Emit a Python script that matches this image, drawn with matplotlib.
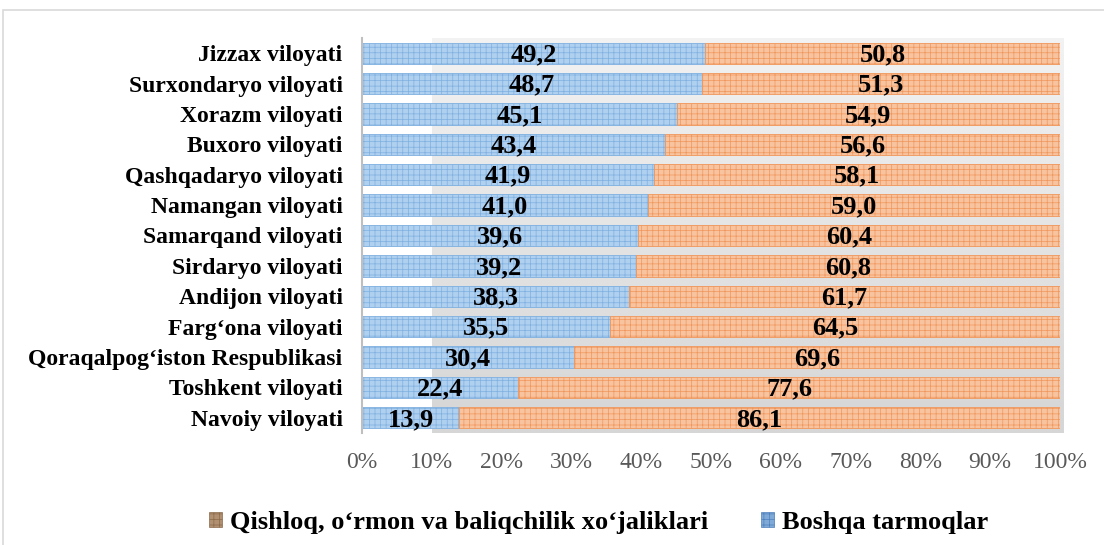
import matplotlib
matplotlib.use("Agg")
import matplotlib.pyplot as plt
import numpy as np
from matplotlib.patches import Patch, Rectangle
from matplotlib.colors import LinearSegmentedColormap

plt.rcParams['font.family'] = ['Liberation Serif', 'DejaVu Serif']
plt.rcParams['hatch.linewidth'] = 0.5

regions = ["Jizzax viloyati", "Surxondaryo viloyati", "Xorazm viloyati",
           "Buxoro viloyati", "Qashqadaryo viloyati", "Namangan viloyati",
           "Samarqand viloyati", "Sirdaryo viloyati", "Andijon viloyati",
           "Farg\u2018ona viloyati", "Qoraqalpog\u2018iston Respublikasi",
           "Toshkent viloyati", "Navoiy viloyati"]
boshqa = [49.2, 48.7, 45.1, 43.4, 41.9, 41.0, 39.6, 39.2, 38.3, 35.5, 30.4, 22.4, 13.9]
qishloq = [50.8, 51.3, 54.9, 56.6, 58.1, 59.0, 60.4, 60.8, 61.7, 64.5, 69.6, 77.6, 86.1]
xticks = [0, 10, 20, 30, 40, 50, 60, 70, 80, 90, 100]
xtick_labels = [f"{t}%" for t in xticks]
series_names = ["Qishloq, o\u2018rmon va baliqchilik xo\u2018jaliklari", "Boshqa tarmoqlar"]

fig = plt.figure(figsize=(11.04, 5.45), dpi=100)
fig.patches.append(Rectangle((3/1104, -0.01), 1.02, 1 - 10/545 + 0.01,
                             transform=fig.transFigure, fill=False,
                             edgecolor='#d9d9d9', linewidth=1.2))
ax = fig.add_axes([362/1104, (545-433)/545, 698/1104, 395/545])

y = np.arange(len(regions))
grad = np.linspace(0, 1, 100).reshape(-1, 1)
cm = LinearSegmentedColormap.from_list('g', ['#f2f2f2', '#d6d6d6'])
ax.imshow(grad, extent=[10, 100.5, len(regions)-0.5, -0.5], aspect='auto',
          cmap=cm, zorder=0, clip_on=False, origin='upper')

h = 0.7
ax.barh(y, boshqa, height=h, color='#b0d0f0', edgecolor='#7eb0e0', hatch='+++',
        linewidth=0.6, zorder=2)
ax.barh(y, qishloq, left=boshqa, height=h, color='#f8c4a0', edgecolor='#f0965a',
        hatch='+++', linewidth=0.6, zorder=2)

for i in range(len(regions)):
    ax.text(boshqa[i]/2, y[i] + 0.05, f"{boshqa[i]:.1f}".replace('.', ','), ha='center',
            va='center', fontsize=19, fontweight='bold', zorder=3)
    ax.text(boshqa[i] + qishloq[i]/2, y[i] + 0.05, f"{qishloq[i]:.1f}".replace('.', ','),
            ha='center', va='center', fontsize=19, fontweight='bold', zorder=3)

ax.set_xlim(0, 100)
ax.set_ylim(len(regions)-0.5, -0.5)
ax.set_yticks(y)
ax.set_yticklabels(regions, fontsize=17, fontweight='bold')
ax.set_xticks(xticks)
ax.set_xticklabels(xtick_labels, fontsize=17, color='#595959')
ax.tick_params(axis='x', length=0, pad=14)
ax.tick_params(axis='y', length=0, pad=14)
for s in ['top', 'right', 'bottom']:
    ax.spines[s].set_visible(False)
ax.spines['left'].set_color('#bfbfbf')
ax.spines['left'].set_linewidth(1.5)
ax.set_facecolor('none')

handles = [Patch(facecolor='#b09070', edgecolor='#8c6a4c', hatch='+++', linewidth=0.5),
           Patch(facecolor='#7fa9d6', edgecolor='#4f81bd', hatch='+++', linewidth=0.5)]
fig.legend(handles, series_names, loc='center', bbox_to_anchor=(0.542, 1 - 522/545),
           ncol=2, frameon=False, prop={'size': 19, 'weight': 'bold'},
           handlelength=0.5, handleheight=0.5, handletextpad=0.3, columnspacing=2.0)

fig.savefig("out.png", dpi=100)
